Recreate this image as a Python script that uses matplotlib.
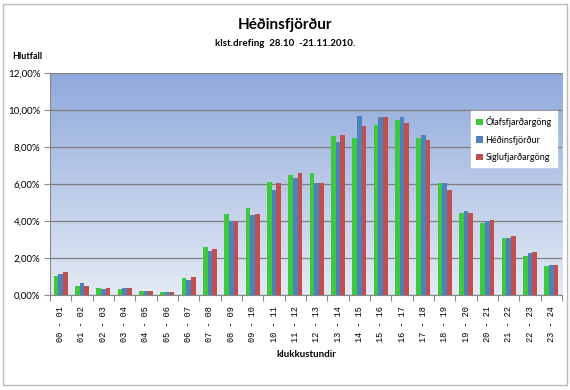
import matplotlib.pyplot as plt
import numpy as np
from matplotlib.patches import Rectangle

plt.rcParams['font.family'] = ['Lato', 'DejaVu Sans']

hours = ['00 - 01', '01 - 02', '02 - 03', '03 - 04', '04 - 05', '05 - 06',
         '06 - 07', '07 - 08', '08 - 09', '09 - 10', '10 - 11', '11 - 12',
         '12 - 13', '13 - 14', '14 - 15', '15 - 16', '16 - 17', '17 - 18',
         '18 - 19', '19 - 20', '20 - 21', '21 - 22', '22 - 23', '23 - 24']

olafs = [1.00, 0.50, 0.36, 0.32, 0.23, 0.18, 0.90, 2.58, 4.40, 4.68, 6.13, 6.49,
         6.60, 8.60, 8.47, 9.19, 9.44, 8.50, 6.04, 4.42, 3.91, 3.06, 2.10, 1.55]
hedins = [1.15, 0.65, 0.31, 0.36, 0.23, 0.14, 0.83, 2.38, 4.00, 4.30, 5.69, 6.34,
          6.05, 8.25, 9.66, 9.60, 9.60, 8.65, 6.04, 4.55, 4.00, 3.06, 2.27, 1.64]
siglu = [1.26, 0.50, 0.36, 0.36, 0.23, 0.18, 0.95, 2.50, 4.00, 4.40, 6.05, 6.60,
         6.05, 8.65, 9.15, 9.60, 9.28, 8.40, 5.66, 4.42, 4.05, 3.20, 2.32, 1.60]

series_names = ['Ólafsfjarðargöng', 'Héðinsfjörður', 'Siglufjarðargöng']
colors = ['#3dc83d', '#4f81bd', '#c0504d']

fig = plt.figure(figsize=(5.7, 3.9), dpi=100)
ax = fig.add_axes([0.0877, 0.2436, 0.8983, 0.5692])

# gradient background
grad = np.linspace(0, 1, 256).reshape(-1, 1)
top = np.array([0x8f, 0xa9, 0xdb]) / 255
bot = np.array([0xe4, 0xea, 0xf5]) / 255
img = top + (bot - top) * grad[:, :, None]
ax.imshow(img, extent=[0, 1, 0, 1], transform=ax.transAxes, aspect='auto', zorder=0)

x = np.arange(len(hours))
w = 0.22
for i, (vals, name, c) in enumerate(zip([olafs, hedins, siglu], series_names, colors)):
    ax.bar(x + (i - 1) * w, vals, width=w, color=c, label=name, zorder=3)

ax.set_xlim(-0.5, len(hours) - 0.5)
ax.set_ylim(0, 12)
yt = np.arange(0, 13, 2)
ax.set_yticks(yt)
ax.set_yticklabels([f'{v:.2f}%'.replace('.', ',') for v in yt], fontsize=7)
ax.yaxis.grid(True, color='#7f7f7f', linewidth=0.9, zorder=1)
ax.set_axisbelow(True)

ax.set_xticks(np.arange(-0.5, len(hours), 1))
ax.set_xticklabels([])
ax.set_xticks(x, minor=True)
ax.set_xticklabels(hours, minor=True, rotation=90, fontsize=6.2, family='Liberation Mono')
ax.tick_params(axis='x', which='minor', length=0, pad=8)
ax.tick_params(axis='x', which='major', length=4, color='#888888')
ax.tick_params(axis='y', length=4, color='#888888', pad=3)

for s in ['top', 'right']:
    ax.spines[s].set_visible(False)
for s in ['left', 'bottom']:
    ax.spines[s].set_color('#888888')

ax.set_xlabel('klukkustundir', fontsize=7, fontweight='bold', labelpad=6)

leg = ax.legend(loc='upper right', bbox_to_anchor=(0.99, 0.83), fontsize=6.5,
                frameon=True, fancybox=False, framealpha=1, edgecolor='white',
                handlelength=0.7, handleheight=0.7, handletextpad=0.3,
                labelspacing=0.9, borderpad=0.6, borderaxespad=0)

fig.text(0.5, 0.935, 'Héðinsfjörður', ha='center', va='center', fontsize=11, fontweight='bold')
fig.text(0.5, 0.888, 'klst.drefing  28.10  -21.11.2010.', ha='center', va='center',
         fontsize=7, fontweight='bold')
fig.text(0.022, 0.855, 'Hlutfall', ha='left', va='center', fontsize=6.5, fontweight='bold')

fig.patches.append(Rectangle((0.005, 0.012), 0.99, 0.978, transform=fig.transFigure,
                             fill=False, edgecolor='#bbbbbb', linewidth=1))

fig.savefig('out.png', dpi=100)
